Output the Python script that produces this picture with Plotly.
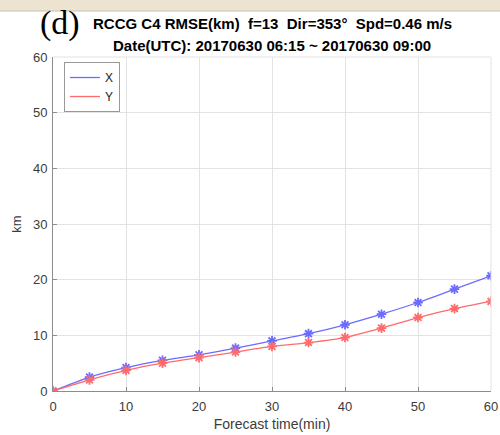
import plotly.graph_objects as go

# Forecast lead times (minutes) and RMSE (km) for the X and Y components
forecast_min = [0, 5, 10, 15, 20, 25, 30, 35, 40, 45, 50, 55, 60]
rmse_x = [0, 2.5, 4.2, 5.5, 6.5, 7.7, 9.0, 10.3, 11.9, 13.8, 15.9, 18.3, 20.7]
rmse_y = [0, 2.0, 3.7, 5.0, 6.0, 7.0, 8.0, 8.7, 9.6, 11.3, 13.2, 14.8, 16.1]

x_ticks = [0, 10, 20, 30, 40, 50, 60]
y_ticks = [0, 10, 20, 30, 40, 50, 60]

title_line1 = "RCCG C4 RMSE(km)  f=13  Dir=353°  Spd=0.46 m/s"
title_line2 = "Date(UTC): 20170630 06:15 ~ 20170630 09:00"
panel_label = "(d)"

BLUE_LINE = "#6b6bff"
BLUE_MARK = "#2222ff"
RED_LINE = "#ff6b6b"
RED_MARK = "#ff2222"

fig = go.Figure()

for name, vals, lc, mc in [("X", rmse_x, BLUE_LINE, BLUE_MARK),
                           ("Y", rmse_y, RED_LINE, RED_MARK)]:
    # data curve with asterisk markers
    fig.add_trace(go.Scatter(
        x=forecast_min, y=vals, mode="lines+markers", showlegend=False,
        line=dict(color=lc, width=1.3, shape="spline", smoothing=0.6),
        marker=dict(symbol="asterisk-open", size=8,
                    line=dict(color=mc, width=1.8)),
    ))
    # legend entry drawn as a plain line
    fig.add_trace(go.Scatter(
        x=[None], y=[None], mode="lines", name=name,
        line=dict(color=lc, width=1.3),
    ))

axis_common = dict(
    showgrid=True, gridcolor="#e3e3e3", gridwidth=1,
    zeroline=False, showline=True, linecolor="#8c8c8c", linewidth=1,
    ticks="inside", ticklen=4, tickcolor="#8c8c8c",
    tickfont=dict(family="Liberation Sans, Arial", size=13, color="#3c3c3c"),
    mirror=False, automargin=False,
)

fig.update_layout(
    width=500, height=435,
    margin=dict(l=53, r=9, t=57, b=44),
    paper_bgcolor="white", plot_bgcolor="white",
    xaxis=dict(range=[0, 60], tickvals=x_ticks, ticklabelstandoff=3,
               title=dict(text="Forecast time(min)", standoff=6,
                          font=dict(family="Liberation Sans, Arial", size=14, color="#3c3c3c")),
               **axis_common),
    yaxis=dict(range=[0, 60], tickvals=y_ticks, ticklabelstandoff=2,
               title=dict(text="km", standoff=8,
                          font=dict(family="Liberation Sans, Arial", size=13, color="#3c3c3c")),
               **axis_common),
    legend=dict(x=0.025, y=0.985, xanchor="left", yanchor="top",
                bgcolor="white", bordercolor="#999999", borderwidth=1,
                font=dict(family="Liberation Sans, Arial", size=12, color="#222222"),
                itemwidth=30, tracegroupgap=0),
    shapes=[
        # beige strip along the top edge of the page
        dict(type="rect", xref="paper", yref="paper",
             x0=-0.2, x1=1.1, y0=1 + (57 - 11) / 334, y1=1 + 57 / 334 + 0.01,
             fillcolor="#ece4d1", line=dict(width=0), layer="below"),
        dict(type="line", xref="paper", yref="paper",
             x0=-0.2, x1=1.1, y0=1 + (57 - 11) / 334, y1=1 + (57 - 11) / 334,
             line=dict(color="#c9c2b2", width=1)),
        # light frame on top and right of the axes box
        dict(type="line", xref="paper", yref="paper", x0=0, x1=1, y0=1, y1=1,
             line=dict(color="#e3e3e3", width=1)),
        dict(type="line", xref="paper", yref="paper", x0=1, x1=1, y0=0, y1=1,
             line=dict(color="#e3e3e3", width=1)),
    ],
    annotations=[
        dict(text=panel_label, xref="paper", yref="paper", x=-0.035, y=1 + 34 / 334,
             xanchor="left", yanchor="middle", showarrow=False,
             font=dict(family="Liberation Serif, Times New Roman", size=34, color="black")),
        dict(text="<b>" + title_line1 + "</b>", xref="paper", yref="paper",
             x=(272 - 53) / 438, y=1 + 33 / 334, xanchor="center", yanchor="middle",
             showarrow=False,
             font=dict(family="Liberation Sans, Arial", size=15, color="black")),
        dict(text="<b>" + title_line2 + "</b>", xref="paper", yref="paper",
             x=(272 - 53) / 438, y=1 + 11 / 334, xanchor="center", yanchor="middle",
             showarrow=False,
             font=dict(family="Liberation Sans, Arial", size=15, color="black")),
    ],
)

fig.write_html("out.html")
